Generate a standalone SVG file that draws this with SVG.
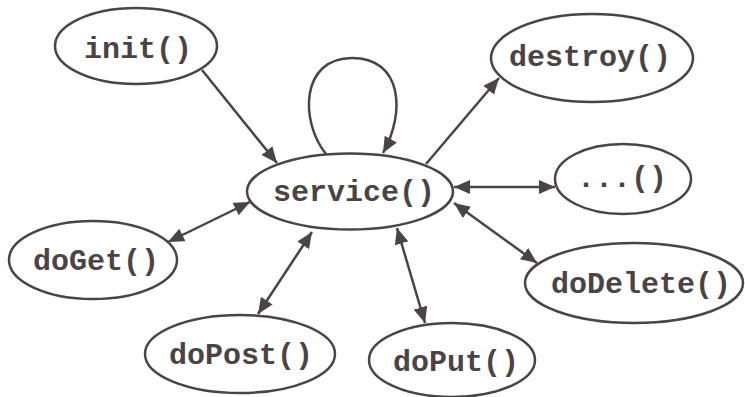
<svg xmlns="http://www.w3.org/2000/svg" width="745" height="397" viewBox="0 0 745 397">
  <style>
    .node ellipse { fill: #ffffff; stroke: #4b4344; stroke-width: 2.5; }
    .node text { font-family: "Liberation Mono", "Courier New", monospace; font-weight: bold; font-size: 30px; fill: #4b4344; text-anchor: middle; }
    .edge { fill: none; stroke: #4b4344; stroke-width: 2.5; }
  </style>
  <defs>
    <marker id="head" viewBox="0 0 16 14" refX="16" refY="7" markerWidth="16" markerHeight="14" markerUnits="userSpaceOnUse" orient="auto-start-reverse">
      <path d="M0,0 L16,7 L0,14 Z" fill="#4b4344"/>
    </marker>
  </defs>

  <rect width="745" height="397" fill="#ffffff"/>

  <g id="connectors">
    <line class="edge" x1="202" y1="70" x2="277" y2="163" marker-end="url(#head)"/>
    <path class="edge" d="M326,154 C300,122 300,58 352,58 C402,58 406,112 383,153" marker-end="url(#head)"/>
    <line class="edge" x1="426" y1="164" x2="499" y2="78" marker-end="url(#head)"/>
    <line class="edge" x1="454" y1="187" x2="555" y2="187" marker-start="url(#head)" marker-end="url(#head)"/>
    <line class="edge" x1="454" y1="203" x2="537" y2="263" marker-start="url(#head)" marker-end="url(#head)"/>
    <line class="edge" x1="250" y1="202" x2="168" y2="242" marker-start="url(#head)" marker-end="url(#head)"/>
    <line class="edge" x1="312" y1="232" x2="258" y2="314" marker-start="url(#head)" marker-end="url(#head)"/>
    <line class="edge" x1="397" y1="228" x2="425" y2="323" marker-start="url(#head)" marker-end="url(#head)"/>
  </g>

  <g id="init" class="node">
    <ellipse cx="136" cy="46" rx="81" ry="38"/>
    <text x="138" y="58">init()</text>
  </g>
  <g id="service" class="node">
    <ellipse cx="350" cy="191.5" rx="103" ry="38"/>
    <text x="354" y="201">service()</text>
  </g>
  <g id="destroy" class="node">
    <ellipse cx="592" cy="58" rx="101" ry="44"/>
    <text x="590" y="66">destroy()</text>
  </g>
  <g id="other" class="node">
    <ellipse cx="623" cy="179" rx="68" ry="35"/>
    <text x="622" y="187">...()</text>
  </g>
  <g id="doGet" class="node">
    <ellipse cx="93" cy="260" rx="84" ry="39"/>
    <text x="96" y="270">doGet()</text>
  </g>
  <g id="doDelete" class="node">
    <ellipse cx="634" cy="283" rx="109" ry="40"/>
    <text x="641" y="293">doDelete()</text>
  </g>
  <g id="doPost" class="node">
    <ellipse cx="240" cy="354" rx="95" ry="39"/>
    <text x="241" y="364">doPost()</text>
  </g>
  <g id="doPut" class="node">
    <ellipse cx="452" cy="360" rx="83" ry="37"/>
    <text x="456" y="371">doPut()</text>
  </g>
</svg>
